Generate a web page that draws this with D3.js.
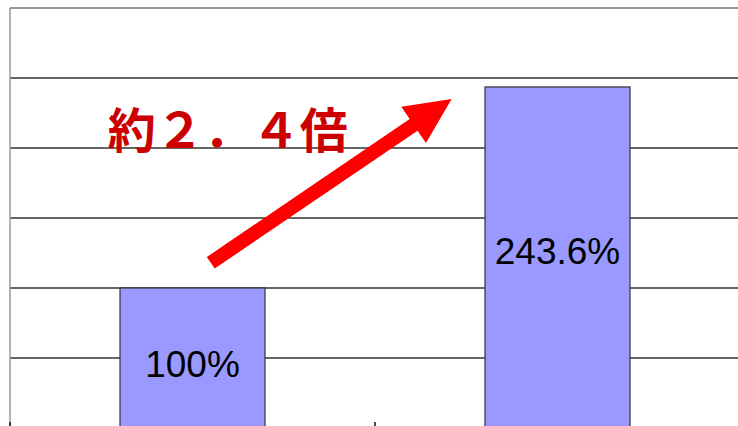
<!DOCTYPE html>
<html>
<head>
<meta charset="utf-8">
<script src="https://cdn.jsdelivr.net/npm/d3@7/dist/d3.min.js"></script>
<style>
  html, body { margin: 0; padding: 0; background: #fff; }
  svg { display: block; }
</style>
</head>
<body>
<div id="chart"></div>
<script>
// Growth comparison: two periods, shown as percentage of the base period
const categories = ["前", "後"];
const values = [100, 243.6];
const valueLabels = ["100%", "243.6%"];
const gridTicks = [0, 50, 100, 150, 200, 250, 300];
const callout = "約２．４倍";

// where each value label sits, as a share of its bar's height
const labelAt = [0.457, 0.517];

// callout arrow, in band units along x and percent along y
const arrowFrom = { pos: 0.55, value: 118 };
const arrowTo = { pos: 1.21, value: 235 };
const calloutAt = { pos: 0.268, value: 200 };

const W = 738, H = 426;
const plot = { left: 10, right: 740, top: 8, bottom: 428 };

const svg = d3.select("#chart").append("svg")
  .attr("width", W).attr("height", H);

const x = d3.scaleBand()
  .domain(categories)
  .range([plot.left, plot.right])
  .paddingInner(0).paddingOuter(0);
const xPos = d3.scaleLinear().domain([0, categories.length]).range([plot.left, plot.right]);
const y = d3.scaleLinear().domain([0, 300]).range([plot.bottom, plot.top]);

const barFrac = 145 / 365;
const barW = x.bandwidth() * barFrac;

// horizontal gridlines
svg.append("g")
  .selectAll("line")
  .data(gridTicks.filter(t => t > 0))
  .join("line")
  .attr("x1", plot.left).attr("x2", W)
  .attr("y1", d => y(d)).attr("y2", d => y(d))
  .attr("stroke", d => d === 300 ? "#777" : "#333")
  .attr("stroke-width", 1.4);

// value axis line
svg.append("line")
  .attr("x1", plot.left).attr("x2", plot.left)
  .attr("y1", y(300)).attr("y2", H)
  .attr("stroke", "#999").attr("stroke-width", 1.5);

// category axis ticks at band boundaries
svg.append("g")
  .selectAll("line")
  .data(d3.range(categories.length + 1))
  .join("line")
  .attr("x1", d => xPos(d)).attr("x2", d => xPos(d))
  .attr("y1", plot.bottom - 6).attr("y2", plot.bottom + 4)
  .attr("stroke", "#111").attr("stroke-width", 1.5);

// bars
svg.append("g")
  .selectAll("rect")
  .data(values)
  .join("rect")
  .attr("x", (d, i) => x(categories[i]) + (x.bandwidth() - barW) / 2)
  .attr("y", d => y(d))
  .attr("width", barW)
  .attr("height", d => y(0) - y(d))
  .attr("fill", "#9999ff")
  .attr("stroke", "#333")
  .attr("stroke-width", 1.2);

// value labels inside bars
svg.append("g")
  .selectAll("text")
  .data(values)
  .join("text")
  .attr("x", (d, i) => x(categories[i]) + x.bandwidth() / 2)
  .attr("y", (d, i) => y(d * labelAt[i]))
  .attr("text-anchor", "middle")
  .attr("dominant-baseline", "central")
  .attr("font-family", "'Liberation Sans', Arial, sans-serif")
  .attr("font-size", 37)
  .attr("fill", "#000")
  .text((d, i) => valueLabels[i]);

// callout arrow
(function drawArrow() {
  const x0 = xPos(arrowFrom.pos), y0 = y(arrowFrom.value);
  const x1 = xPos(arrowTo.pos), y1 = y(arrowTo.value);
  const dx = x1 - x0, dy = y1 - y0;
  const len = Math.hypot(dx, dy);
  const ux = dx / len, uy = dy / len;
  const nx = -uy, ny = ux;
  const shaft = 7, head = 22, headLen = 46;
  const bx = x1 - ux * headLen, by = y1 - uy * headLen;
  const pts = [
    [x0 + nx * shaft, y0 + ny * shaft],
    [bx + nx * shaft, by + ny * shaft],
    [bx + nx * head, by + ny * head],
    [x1, y1],
    [bx - nx * head, by - ny * head],
    [bx - nx * shaft, by - ny * shaft],
    [x0 - nx * shaft, y0 - ny * shaft]
  ];
  svg.append("path")
    .attr("d", d3.line()(pts) + "Z")
    .attr("fill", "#ff0000");
})();

// callout text
svg.append("text")
  .attr("x", xPos(calloutAt.pos))
  .attr("y", y(calloutAt.value))
  .attr("font-family", "'Noto Sans CJK JP', sans-serif")
  .attr("font-weight", 700)
  .attr("font-size", 48)
  .attr("fill", "#cc0000")
  .text(callout);
</script>
</body>
</html>
